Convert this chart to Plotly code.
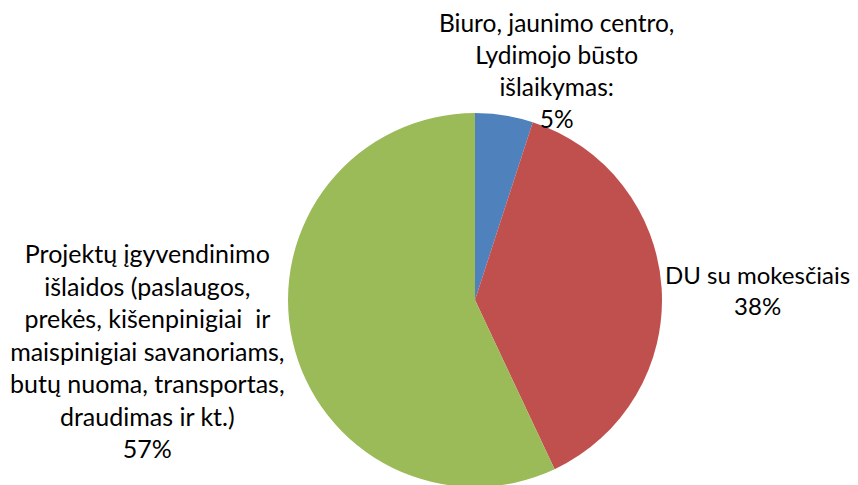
import plotly.graph_objects as go

labels = [
    "Biuro, jaunimo centro,<br>Lydimojo būsto<br>išlaikymas:",
    "DU su mokesčiais",
    "Projektų įgyvendinimo<br>išlaidos (paslaugos,<br>prekės, kišenpinigiai  ir<br>maispinigiai savanoriams,<br>butų nuoma, transportas,<br>draudimas ir kt.)",
]
values = [5, 38, 57]
colors = ["#4F81BD", "#C0504D", "#9BBB59"]

W, H = 858, 485
OFF = 8  # page body margin
cx, cy, r = 475 - OFF, 300 - OFF, 187

fig = go.Figure(go.Pie(
    labels=labels, values=values, sort=False, direction="clockwise", rotation=0,
    marker=dict(colors=colors, line=dict(width=0)),
    textinfo="none", hoverinfo="label+percent", showlegend=False,
    domain=dict(x=[(cx - r) / W, (cx + r) / W], y=[1 - (cy + r) / H, 1 - (cy - r) / H]),
))

font = dict(family="Lato, Calibri, sans-serif", size=25, color="#000000")
label_pos = [(556, 71), (757, 290), (147, 350)]
label_size = [24.5, 24, 25]
for lab, v, (x, y), s in zip(labels, values, label_pos, label_size):
    fig.add_annotation(
        text=f"{lab}<br>{v}%", x=(x - OFF) / W, y=1 - (y - OFF) / H,
        xref="paper", yref="paper",
        xanchor="center", yanchor="middle", showarrow=False, align="center",
        font=dict(font, size=s),
    )

fig.update_layout(width=W, height=H, margin=dict(l=0, r=0, t=0, b=0),
                  paper_bgcolor="white", plot_bgcolor="white")
fig.write_html("out.html")
